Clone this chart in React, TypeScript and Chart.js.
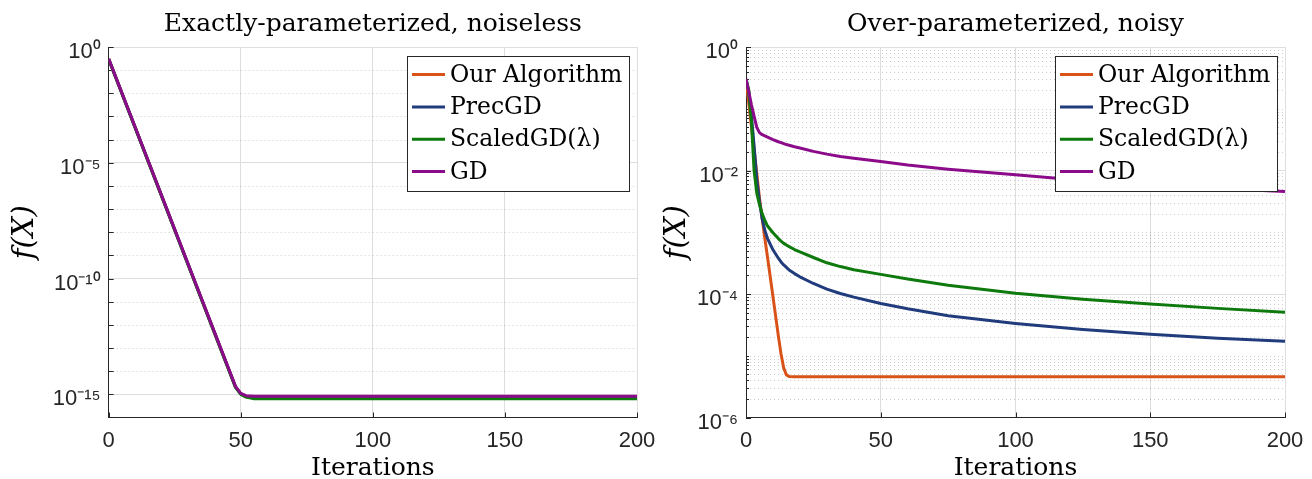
import React, { useEffect, useRef } from "react";
import { Chart, registerables } from "chart.js";

Chart.register(...registerables);

// ---------------- data ----------------
const seriesNames = ["Our Algorithm", "PrecGD", "ScaledGD(λ)", "GD"];
const seriesColors = ["#D95319", "#213C7C", "#0E7A0E", "#8B0B8B"];

const xTickValues = [0, 50, 100, 150, 200];

const leftTitle = "Exactly-parameterized, noiseless";
const leftYTickValues = [1e-15, 1e-10, 1e-5, 1];
const leftYTickLabels = ["10⁻¹⁵", "10⁻¹⁰", "10⁻⁵", "10⁰"];
const leftIterations = [0, 48, 50, 52, 55, 200];
const leftOurAlgorithm = [3.0e-1, 2.1e-15, 1.05e-15, 7.9e-16, 7.6e-16, 7.6e-16];
const leftPrecGD = [3.0e-1, 2.1e-15, 1.05e-15, 7.9e-16, 7.4e-16, 7.4e-16];
const leftScaledGD = [2.95e-1, 2.0e-15, 1.0e-15, 7.6e-16, 6.5e-16, 6.5e-16];
const leftGD = [3.1e-1, 2.2e-15, 1.1e-15, 8.7e-16, 8.3e-16, 8.3e-16];

const rightTitle = "Over-parameterized, noisy";
const rightYTickValues = [1e-6, 1e-4, 1e-2, 1];
const rightYTickLabels = ["10⁻⁶", "10⁻⁴", "10⁻²", "10⁰"];
const rightIterations = [0, 1, 2, 3, 4, 5, 6, 7, 8, 10, 12, 13, 14, 15, 16, 18, 20, 25, 30, 35, 40, 50, 60, 75, 100, 125, 150, 175, 200];
const rightOurAlgorithm = [3.02e-1, 1.26e-1, 5.25e-2, 2.19e-2, 8.9e-3, 3.6e-3, 1.66e-3, 7.9e-4, 3.9e-4, 9.1e-5, 2.1e-5, 1.07e-5, 6.3e-6, 4.9e-6, 4.6e-6, 4.56e-6, 4.56e-6, 4.56e-6, 4.56e-6, 4.56e-6, 4.56e-6, 4.56e-6, 4.56e-6, 4.56e-6, 4.56e-6, 4.56e-6, 4.56e-6, 4.56e-6, 4.56e-6];
const rightPrecGD = [3.02e-1, 1.91e-1, 7.94e-2, 2.51e-2, 7.1e-3, 3.16e-3, 1.66e-3, 1.07e-3, 7.9e-4, 5.2e-4, 3.8e-4, 3.3e-4, 2.95e-4, 2.7e-4, 2.45e-4, 2.14e-4, 1.9e-4, 1.48e-4, 1.2e-4, 1.02e-4, 8.9e-5, 7.0e-5, 5.75e-5, 4.45e-5, 3.34e-5, 2.65e-5, 2.22e-5, 1.92e-5, 1.71e-5];
const rightScaledGD = [3.02e-1, 2.0e-1, 6.3e-2, 1.0e-2, 4.3e-3, 2.8e-3, 2.0e-3, 1.55e-3, 1.26e-3, 9.8e-4, 7.9e-4, 7.2e-4, 6.6e-4, 6.2e-4, 5.85e-4, 5.25e-4, 4.8e-4, 3.9e-4, 3.2e-4, 2.78e-4, 2.47e-4, 2.08e-4, 1.75e-4, 1.39e-4, 1.03e-4, 8.2e-5, 6.9e-5, 5.85e-5, 5.05e-5];
const rightGD = [3.02e-1, 1.91e-1, 1.17e-1, 7.6e-2, 5.0e-2, 4.1e-2, 3.8e-2, 3.63e-2, 3.47e-2, 3.16e-2, 2.92e-2, 2.82e-2, 2.72e-2, 2.63e-2, 2.57e-2, 2.43e-2, 2.32e-2, 2.04e-2, 1.84e-2, 1.68e-2, 1.58e-2, 1.4e-2, 1.23e-2, 1.05e-2, 8.5e-3, 6.9e-3, 5.9e-3, 5.1e-3, 4.55e-3];

// ---------------- styling ----------------
const AXIS = "#262626";
const MAJOR_GRID = "#DEDEDE";
const MINOR_GRID = "rgba(0,0,0,0.2)";
const SERIF = "'DejaVu Serif', serif";
const SANS = "'Liberation Sans', Arial, Helvetica, sans-serif";
const CANVAS_W = 648;
const CANVAS_H = 480;

// minor grid positions (decades between labelled ones, or 2..9 within decades)
const leftMinorY: number[] = [];
for (let k = -15; k <= 0; k++) {
  const v = Math.pow(10, k);
  if (!leftYTickValues.some((t) => Math.abs(Math.log10(t) - k) < 1e-9)) leftMinorY.push(v);
}
const rightMinorY: number[] = [];
for (let k = -6; k <= -1; k++) {
  for (let m = 1; m <= 9; m++) {
    const v = m * Math.pow(10, k);
    if (m === 1 && k % 2 === 0) continue;
    rightMinorY.push(v);
  }
}

const decorPlugin = {
  id: "matlabDecor",
  beforeDatasetsDraw(chart: any, _args: any, opts: any) {
    const { ctx, chartArea: a } = chart;
    const xs = chart.scales.x;
    const ys = chart.scales.y;
    ctx.save();
    ctx.lineWidth = 1;
    ctx.strokeStyle = MINOR_GRID;
    ctx.setLineDash([1, 3]);
    for (const v of opts.minorY) {
      const py = Math.round(ys.getPixelForValue(v)) + 0.5;
      ctx.beginPath();
      ctx.moveTo(a.left, py);
      ctx.lineTo(a.right, py);
      ctx.stroke();
    }
    ctx.setLineDash([]);
    ctx.strokeStyle = AXIS;
    const yTick = (v: number, len: number) => {
      const py = Math.round(ys.getPixelForValue(v)) + 0.5;
      ctx.beginPath();
      ctx.moveTo(a.left, py);
      ctx.lineTo(a.left + len, py);
      ctx.stroke();
    };
    for (const v of opts.majorY) yTick(v, opts.majorTickLen);
    for (const v of opts.minorY) yTick(v, opts.minorTickLen);
    for (const v of xTickValues) {
      const px = Math.round(xs.getPixelForValue(v)) + 0.5;
      ctx.beginPath();
      ctx.moveTo(px, a.bottom);
      ctx.lineTo(px, a.bottom - 5);
      ctx.stroke();
    }
    ctx.restore();
  },
  afterDatasetsDraw(chart: any) {
    const { ctx, chartArea: a } = chart;
    const ds = chart.data.datasets;
    ctx.save();
    ctx.font = `23.5px ${SERIF}`;
    const maxW = Math.max(...ds.map((d: any) => ctx.measureText(d.label).width));
    const padL = 5, lineLen = 33, gap = 5, padR = 7, rowH = 32.3;
    const w = Math.round(padL + lineLen + gap + maxW + padR);
    const h = Math.round(rowH * ds.length + 6);
    const right = Math.round(a.right - 8.5);
    const left = right - w;
    const top = Math.round(a.top + 8.5);
    ctx.fillStyle = "#ffffff";
    ctx.fillRect(left, top, w, h);
    ctx.strokeStyle = AXIS;
    ctx.lineWidth = 1;
    ctx.strokeRect(left + 0.5, top + 0.5, w, h);
    ds.forEach((d: any, i: number) => {
      const cy = top + 18.6 + i * rowH;
      ctx.strokeStyle = d.borderColor;
      ctx.lineWidth = 3;
      ctx.beginPath();
      ctx.moveTo(left + padL, cy);
      ctx.lineTo(left + padL + lineLen, cy);
      ctx.stroke();
      ctx.fillStyle = "#000";
      ctx.textAlign = "left";
      ctx.textBaseline = "middle";
      ctx.fillText(d.label, left + padL + lineLen + gap, cy + 1);
    });
    ctx.restore();
  },
};

type PanelProps = {
  title: string;
  iterations: number[];
  series: number[][];
  yMin: number;
  yMax: number;
  yTickValues: number[];
  yTickLabels: string[];
  minorY: number[];
  axisWidth: number;
  majorTickLen: number;
  minorTickLen: number;
  yTitlePad: number;
};

function Panel(p: PanelProps) {
  const ref = useRef<HTMLCanvasElement>(null);
  useEffect(() => {
    const canvas = ref.current;
    if (!canvas) return;
    const order = [3, 2, 1, 0];
    const chart = new Chart(canvas, {
      type: "line",
      data: {
        datasets: p.series.map((vals, si) => ({
          label: seriesNames[si],
          data: p.iterations.map((x, i) => ({ x, y: vals[i] })),
          borderColor: seriesColors[si],
          backgroundColor: seriesColors[si],
          borderWidth: 3,
          pointRadius: 0,
          tension: 0,
          fill: false,
          order: order[si],
          borderJoinStyle: "round",
        })),
      },
      plugins: [decorPlugin],
      options: {
        responsive: false,
        animation: false,
        events: [],
        layout: { padding: { left: 0, right: 19, top: 0, bottom: 0 } },
        plugins: {
          legend: { display: false },
          tooltip: { enabled: false },
          title: {
            display: true,
            text: p.title,
            fullSize: false,
            color: "#000",
            font: { family: SERIF, size: 25, weight: "normal", lineHeight: 1.2 },
            padding: { top: 1, bottom: 8 },
          },
          matlabDecor: {
            minorY: p.minorY,
            majorY: p.yTickValues,
            majorTickLen: p.majorTickLen,
            minorTickLen: p.minorTickLen,
          },
        } as any,
        scales: {
          x: {
            type: "linear",
            min: 0,
            max: 200,
            afterBuildTicks: (s: any) => {
              s.ticks = xTickValues.map((v) => ({ value: v }));
            },
            afterFit: (s: any) => {
              s.height = 70.5;
              s.paddingLeft = 0;
              s.paddingRight = 0;
            },
            grid: { color: MAJOR_GRID, lineWidth: 1, drawTicks: false },
            border: { display: true, color: AXIS, width: 1 },
            ticks: {
              color: AXIS,
              font: { family: SANS, size: 22 },
              padding: 10,
              maxRotation: 0,
              autoSkip: false,
            },
            title: {
              display: true,
              text: "Iterations",
              color: "#000",
              font: { family: SERIF, size: 25, lineHeight: 1.2 },
              padding: { top: 0, bottom: 5 },
            },
          },
          y: {
            type: "logarithmic",
            min: p.yMin,
            max: p.yMax,
            afterBuildTicks: (s: any) => {
              s.ticks = p.yTickValues.map((v) => ({ value: v }));
            },
            afterFit: (s: any) => {
              s.width = p.axisWidth;
              s.paddingTop = 0;
              s.paddingBottom = 0;
            },
            grid: { color: MAJOR_GRID, lineWidth: 1, drawTicks: false },
            border: { display: true, color: AXIS, width: 1 },
            ticks: {
              color: AXIS,
              font: { family: SANS, size: 22 },
              padding: 8,
              labelOffset: 5,
              autoSkip: false,
              callback: (value: any) => {
                const i = p.yTickValues.findIndex(
                  (t) => Math.abs(Math.log10(t) - Math.log10(Number(value))) < 1e-6
                );
                return i >= 0 ? p.yTickLabels[i] : "";
              },
            },
            title: {
              display: true,
              text: "f(X)",
              color: "#000",
              font: { family: SERIF, size: 29, style: "italic", lineHeight: 1.2 },
              padding: { top: p.yTitlePad, bottom: 0 },
            },
          },
        },
      } as any,
    });
    return () => chart.destroy();
  }, []);
  return (
    <div style={{ width: CANVAS_W, height: CANVAS_H, flex: "0 0 auto" }}>
      <canvas ref={ref} width={CANVAS_W} height={CANVAS_H} style={{ display: "block" }} />
    </div>
  );
}

export default function App() {
  useEffect(() => {
    document.documentElement.style.overflow = "hidden";
    document.body.style.overflow = "hidden";
  }, []);
  return (
    <div style={{ display: "flex", width: 1296, height: 471, overflow: "hidden", background: "#fff" }}>
      <Panel
        title={leftTitle}
        iterations={leftIterations}
        series={[leftOurAlgorithm, leftPrecGD, leftScaledGD, leftGD]}
        yMin={1e-16}
        yMax={1}
        yTickValues={leftYTickValues}
        yTickLabels={leftYTickLabels}
        minorY={leftMinorY}
        axisWidth={100.7}
        majorTickLen={5}
        minorTickLen={5}
        yTitlePad={0}
      />
      <Panel
        title={rightTitle}
        iterations={rightIterations}
        series={[rightOurAlgorithm, rightPrecGD, rightScaledGD, rightGD]}
        yMin={1e-6}
        yMax={1}
        yTickValues={rightYTickValues}
        yTickLabels={rightYTickLabels}
        minorY={rightMinorY}
        axisWidth={90}
        majorTickLen={5}
        minorTickLen={3}
        yTitlePad={4}
      />
    </div>
  );
}
